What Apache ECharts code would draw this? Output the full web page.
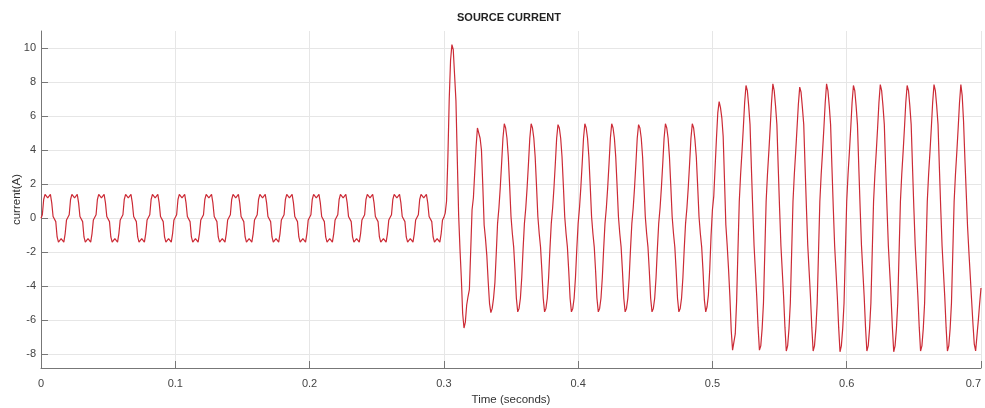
<!DOCTYPE html>
<html>
<head>
<meta charset="utf-8">
<title>SOURCE CURRENT</title>
<script src="https://cdn.jsdelivr.net/npm/echarts@6/dist/echarts.min.js"></script>
<style>
  html, body { margin: 0; padding: 0; background: #fff; }
  #chart { width: 985px; height: 408px; }
</style>
</head>
<body>
<div id="chart"></div>
<script>
// scope trace, sampled every 1 ms (one row = one 20 ms cycle)
const sampleStep = 0.001
const xTicks = [0, 0.1, 0.2, 0.3, 0.4, 0.5, 0.6, 0.7]
const yTicks = [-8, -6, -4, -2, 0, 2, 4, 6, 8, 10]

// 0 - 0.3 s : light load, quasi-square current
const currentLightLoad = [
  0, 0.2, 1.1, 1.4, 1.3, 1.2, 1.3, 1.4, 0.9, 0.1, 0, -0.2, -1.1, -1.4, -1.3, -1.2, -1.3, -1.4, -0.9, -0.1,
  0, 0.2, 1.1, 1.4, 1.3, 1.2, 1.3, 1.4, 0.9, 0.1, 0, -0.2, -1.1, -1.4, -1.3, -1.2, -1.3, -1.4, -0.9, -0.1,
  0, 0.2, 1.1, 1.4, 1.3, 1.2, 1.3, 1.4, 0.9, 0.1, 0, -0.2, -1.1, -1.4, -1.3, -1.2, -1.3, -1.4, -0.9, -0.1,
  0, 0.2, 1.1, 1.4, 1.3, 1.2, 1.3, 1.4, 0.9, 0.1, 0, -0.2, -1.1, -1.4, -1.3, -1.2, -1.3, -1.4, -0.9, -0.1,
  0, 0.2, 1.1, 1.4, 1.3, 1.2, 1.3, 1.4, 0.9, 0.1, 0, -0.2, -1.1, -1.4, -1.3, -1.2, -1.3, -1.4, -0.9, -0.1,
  0, 0.2, 1.1, 1.4, 1.3, 1.2, 1.3, 1.4, 0.9, 0.1, 0, -0.2, -1.1, -1.4, -1.3, -1.2, -1.3, -1.4, -0.9, -0.1,
  0, 0.2, 1.1, 1.4, 1.3, 1.2, 1.3, 1.4, 0.9, 0.1, 0, -0.2, -1.1, -1.4, -1.3, -1.2, -1.3, -1.4, -0.9, -0.1,
  0, 0.2, 1.1, 1.4, 1.3, 1.2, 1.3, 1.4, 0.9, 0.1, 0, -0.2, -1.1, -1.4, -1.3, -1.2, -1.3, -1.4, -0.9, -0.1,
  0, 0.2, 1.1, 1.4, 1.3, 1.2, 1.3, 1.4, 0.9, 0.1, 0, -0.2, -1.1, -1.4, -1.3, -1.2, -1.3, -1.4, -0.9, -0.1,
  0, 0.2, 1.1, 1.4, 1.3, 1.2, 1.3, 1.4, 0.9, 0.1, 0, -0.2, -1.1, -1.4, -1.3, -1.2, -1.3, -1.4, -0.9, -0.1,
  0, 0.2, 1.1, 1.4, 1.3, 1.2, 1.3, 1.4, 0.9, 0.1, 0, -0.2, -1.1, -1.4, -1.3, -1.2, -1.3, -1.4, -0.9, -0.1,
  0, 0.2, 1.1, 1.4, 1.3, 1.2, 1.3, 1.4, 0.9, 0.1, 0, -0.2, -1.1, -1.4, -1.3, -1.2, -1.3, -1.4, -0.9, -0.1,
  0, 0.2, 1.1, 1.4, 1.3, 1.2, 1.3, 1.4, 0.9, 0.1, 0, -0.2, -1.1, -1.4, -1.3, -1.2, -1.3, -1.4, -0.9, -0.1,
  0, 0.2, 1.1, 1.4, 1.3, 1.2, 1.3, 1.4, 0.9, 0.1, 0, -0.2, -1.1, -1.4, -1.3, -1.2, -1.3, -1.4, -0.9, -0.1,
  0, 0.2, 1.1, 1.4, 1.3, 1.2, 1.3, 1.4, 0.9, 0.1, 0, -0.2, -1.1, -1.4, -1.3, -1.2, -1.3, -1.4, -0.9, -0.1
]

// 0.3 - 0.5 s : first load step (inrush peak, then ~5.5 A)
const currentStepOne = [
  0.05, 0.3, 1.0, 3.6, 7.0, 9.3, 10.2, 9.9, 8.4, 6.9, 3.5, 0.2, -1.8, -3.5, -5.6, -6.45, -6.1, -5.1, -4.6, -4.2,
  -1.9, 0.5, 1.2, 2.7, 4.2, 5.3, 5.35, 4.7, 4.0, 1.9, -0.4, -1.2, -2.2, -3.7, -5.0, -5.55, -5.3, -4.7, -3.8, -2.1,
  -0.3, 0.6, 1.8, 3.2, 4.7, 5.55, 5.3, 4.7, 3.6, 1.9, 0.1, -0.9, -1.7, -3.1, -4.7, -5.5, -5.3, -4.7, -3.5, -1.8,
  -0.3, 0.6, 1.8, 3.2, 4.7, 5.55, 5.3, 4.7, 3.6, 1.9, 0.1, -0.9, -1.7, -3.1, -4.7, -5.5, -5.3, -4.7, -3.5, -1.8,
  -0.3, 0.6, 1.8, 3.2, 4.7, 5.5, 5.3, 4.7, 3.6, 1.9, 0.1, -0.9, -1.7, -3.1, -4.7, -5.5, -5.3, -4.7, -3.5, -1.8,
  -0.3, 0.6, 1.8, 3.2, 4.7, 5.55, 5.3, 4.7, 3.6, 1.9, 0.1, -0.9, -1.7, -3.1, -4.7, -5.5, -5.3, -4.7, -3.5, -1.8,
  -0.3, 0.6, 1.8, 3.2, 4.7, 5.55, 5.3, 4.7, 3.6, 1.9, 0.1, -0.9, -1.7, -3.1, -4.7, -5.5, -5.3, -4.7, -3.5, -1.8,
  -0.3, 0.6, 1.8, 3.2, 4.7, 5.5, 5.3, 4.7, 3.6, 1.9, 0.1, -0.9, -1.7, -3.1, -4.7, -5.5, -5.3, -4.7, -3.5, -1.8,
  -0.3, 0.6, 1.8, 3.2, 4.7, 5.55, 5.3, 4.7, 3.6, 1.9, 0.1, -0.9, -1.7, -3.1, -4.7, -5.5, -5.3, -4.7, -3.5, -1.8,
  -0.3, 0.6, 1.8, 3.2, 4.7, 5.55, 5.3, 4.6, 3.6, 1.9, 0.1, -0.9, -1.7, -3.1, -4.8, -5.5, -5.2, -4.5, -3.0, -1.0
]

// 0.5 - 0.7 s : second load step (~7.9 A)
const currentStepTwo = [
  0.5, 1.3, 3.0, 4.7, 6.2, 6.85, 6.5, 5.9, 4.8, 2.2, -0.4, -1.6, -3.0, -4.6, -6.6, -7.75, -7.7, -6.8, -4.9, -1.9,
  1.0, 2.6, 3.9, 5.3, 6.8, 7.8, 7.5, 6.6, 5.5, 3.0, 0.6, -1.6, -3.1, -4.6, -6.4, -7.75, -7.5, -6.5, -5.0, -2.0,
  1.0, 2.6, 3.9, 5.3, 6.8, 7.9, 7.5, 6.6, 5.5, 3.0, 0.6, -1.6, -3.1, -4.6, -6.4, -7.8, -7.5, -6.5, -5.0, -2.0,
  1.0, 2.6, 3.9, 5.3, 6.7, 7.7, 7.4, 6.5, 5.5, 3.0, 0.6, -1.6, -3.1, -4.6, -6.4, -7.8, -7.5, -6.5, -5.0, -2.0,
  1.0, 2.6, 3.9, 5.3, 6.8, 7.9, 7.5, 6.6, 5.5, 3.0, 0.6, -1.6, -3.1, -4.6, -6.4, -7.85, -7.5, -6.5, -5.0, -2.0,
  1.0, 2.6, 3.9, 5.3, 6.8, 7.8, 7.5, 6.6, 5.5, 3.0, 0.6, -1.6, -3.1, -4.6, -6.4, -7.8, -7.5, -6.5, -5.0, -2.0,
  1.0, 2.6, 3.9, 5.3, 6.8, 7.85, 7.5, 6.6, 5.5, 3.0, 0.6, -1.6, -3.1, -4.6, -6.4, -7.85, -7.5, -6.5, -5.0, -2.0,
  1.0, 2.6, 3.9, 5.3, 6.8, 7.8, 7.5, 6.6, 5.5, 3.0, 0.6, -1.6, -3.1, -4.6, -6.4, -7.8, -7.5, -6.5, -5.0, -2.0,
  1.0, 2.6, 3.9, 5.3, 6.8, 7.85, 7.5, 6.6, 5.5, 3.0, 0.6, -1.6, -3.1, -4.6, -6.4, -7.8, -7.5, -6.5, -5.0, -2.0,
  1.0, 2.6, 3.9, 5.3, 6.8, 7.85, 7.2, 5.7, 3.5, 1.5, -0.5, -2.0, -3.4, -4.8, -6.2, -7.4, -7.8, -6.9, -6.0, -5.0,
  -4.1
]

const current = [...currentLightLoad, ...currentStepOne, ...currentStepTwo]
const seriesData = current.map((v, i) => [i * sampleStep, v])

const font = 'Liberation Sans, Arial, Helvetica, sans-serif'

const myChart = echarts.init(document.getElementById('chart'), null, { renderer: 'canvas' })

myChart.setOption({
  animation: false,
  backgroundColor: '#ffffff',
  title: {
    text: 'SOURCE CURRENT',
    left: 457,
    top: 12,
    padding: 0,
    textStyle: { fontFamily: font, fontSize: 11, fontWeight: 'bold', color: '#222' }
  },
  grid: { left: 41, right: 4, top: 31, bottom: 40, containLabel: false, outerBoundsMode: 'none' },
  xAxis: {
    type: 'value',
    min: 0,
    max: 0.7,
    interval: 0.1,
    name: 'Time (seconds)',
    nameLocation: 'middle',
    nameGap: 25,
    nameTextStyle: { fontFamily: font, fontSize: 11.5, color: '#333' },
    axisLine: { show: true, onZero: false, lineStyle: { color: '#777', width: 1 } },
    axisTick: { show: true, inside: true, length: 7, lineStyle: { color: '#777' } },
    axisLabel: {
      fontFamily: font, fontSize: 11, color: '#444', margin: 10,
      alignMaxLabel: 'right',
      formatter: (v) => String(Math.round(v * 10) / 10)
    },
    splitLine: { show: true, lineStyle: { color: '#e6e6e6', width: 1 } }
  },
  yAxis: {
    type: 'value',
    min: -8.8,
    max: 11,
    name: 'current(A)',
    nameLocation: 'middle',
    nameGap: 18,
    nameMoveOverlap: false,
    nameTextStyle: { fontFamily: font, fontSize: 11.5, color: '#333' },
    axisLine: { show: true, onZero: false, lineStyle: { color: '#777', width: 1 } },
    axisTick: { show: true, inside: true, length: 7, customValues: yTicks, lineStyle: { color: '#777' } },
    axisLabel: { fontFamily: font, fontSize: 11, color: '#444', margin: 5, customValues: yTicks },
    splitLine: { show: true, lineStyle: { color: '#e6e6e6', width: 1 } }
  },
  series: [
    {
      name: 'current',
      type: 'line',
      data: seriesData,
      showSymbol: false,
      symbol: 'none',
      sampling: 'none',
      lineStyle: { color: '#cc2b36', width: 1.2 }
    }
  ]
})
</script>
</body>
</html>
